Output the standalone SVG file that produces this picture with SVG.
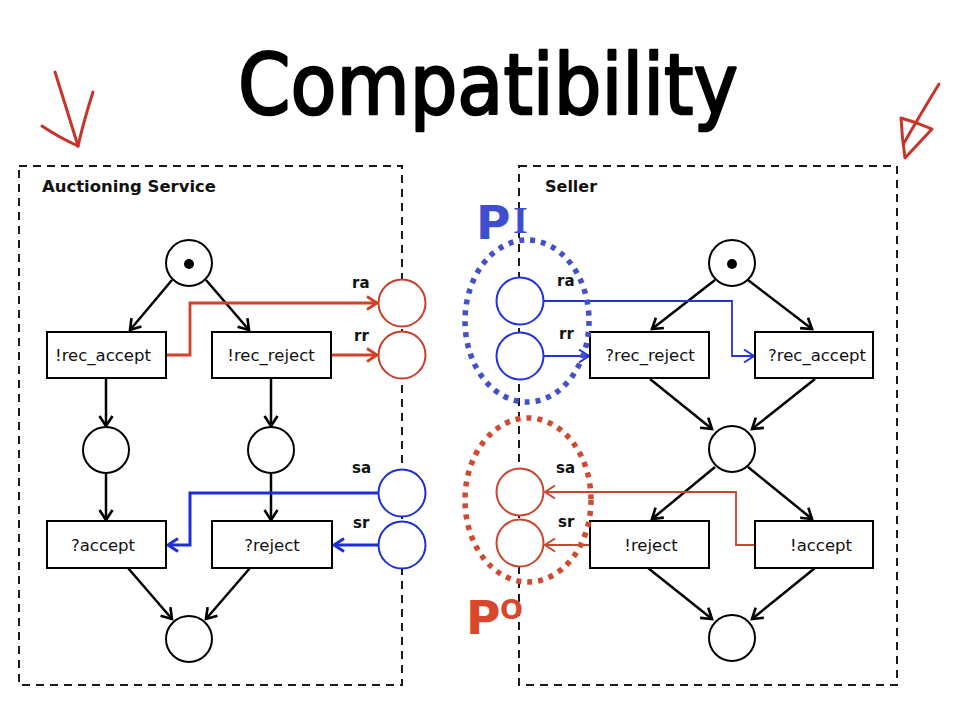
<svg xmlns="http://www.w3.org/2000/svg" width="960" height="712" viewBox="0 0 960 712">
  <style>
    .frame { fill: none; stroke: #1a1a1a; stroke-width: 2; stroke-dasharray: 8 6; }
    .place { fill: #fff; stroke: #000; stroke-width: 2; }
    .trans { fill: #fff; stroke: #000; stroke-width: 2; }
    .tlabel { font-family: "DejaVu Sans", Verdana, sans-serif; font-size: 16.5px; fill: #111; text-anchor: middle; }
    .plabel { font-family: "DejaVu Sans", Verdana, sans-serif; font-size: 15px; font-weight: bold; fill: #111; }
    .title2 { font-family: "DejaVu Sans", Verdana, sans-serif; font-size: 16px; font-weight: bold; fill: #111; }
    .arc { fill: none; stroke: #000; stroke-width: 2.5; }
    .redL { fill: none; stroke: #d0402a; stroke-width: 2.8; }
    .blueL { fill: none; stroke: #1f30d2; stroke-width: 3; }
    .blueR { fill: none; stroke: #2233dd; stroke-width: 1.8; }
    .redR { fill: none; stroke: #c8452e; stroke-width: 1.8; }
    .pen { fill: none; stroke: #c7352a; stroke-width: 3; stroke-linecap: round; stroke-linejoin: round; }
  </style>
  <defs>
    <marker id="ahBlack" markerUnits="userSpaceOnUse" markerWidth="16" markerHeight="16" viewBox="0 0 16 16" refX="13" refY="8" orient="auto">
      <path d="M3,1.5 L13,8 L3,14.5" fill="none" stroke="#000" stroke-width="2.6"/>
    </marker>
    <marker id="ahRedL" markerUnits="userSpaceOnUse" markerWidth="16" markerHeight="16" viewBox="0 0 16 16" refX="13" refY="8" orient="auto">
      <path d="M3,1.5 L13,8 L3,14.5" fill="none" stroke="#d0402a" stroke-width="2.8"/>
    </marker>
    <marker id="ahBlueL" markerUnits="userSpaceOnUse" markerWidth="16" markerHeight="16" viewBox="0 0 16 16" refX="13" refY="8" orient="auto">
      <path d="M3,1.5 L13,8 L3,14.5" fill="none" stroke="#1f30d2" stroke-width="3"/>
    </marker>
    <marker id="ahBlueR" markerUnits="userSpaceOnUse" markerWidth="16" markerHeight="16" viewBox="0 0 16 16" refX="13" refY="8" orient="auto">
      <path d="M3,1.5 L13,8 L3,14.5" fill="none" stroke="#2233dd" stroke-width="2"/>
    </marker>
    <marker id="ahRedR" markerUnits="userSpaceOnUse" markerWidth="16" markerHeight="16" viewBox="0 0 16 16" refX="13" refY="8" orient="auto">
      <path d="M3,1.5 L13,8 L3,14.5" fill="none" stroke="#c8452e" stroke-width="2"/>
    </marker>
  </defs>

  <rect width="960" height="712" fill="#fff"/>

  <!-- heading -->
  <text x="238" y="114" font-family="'Comic Sans MS', 'DejaVu Sans', sans-serif" font-size="84" fill="#000" stroke="#000" stroke-width="2.5" stroke-linejoin="round" textLength="500" lengthAdjust="spacingAndGlyphs">Compatibility</text>

  <!-- pen annotations -->
  <g id="pen-marks">
    <path class="pen" d="M55,72 Q67,110 78,146"/>
    <path class="pen" d="M93,92 Q84,120 78,146"/>
    <path class="pen" d="M42,126 Q60,138 78,146"/>
    <path class="pen" d="M939,84 Q920,115 904,143"/>
    <path class="pen" d="M901,118 Q916,122 932,129 Q918,144 905,158 Q902,138 901,118"/>
  </g>

  <!-- service frames -->
  <g id="frames">
    <rect class="frame" x="19" y="166" width="383" height="519"/>
    <rect class="frame" x="519" y="166" width="378" height="519"/>
    <text class="title2" x="42" y="192" textLength="174" lengthAdjust="spacingAndGlyphs">Auctioning Service</text>
    <text class="title2" x="545" y="192">Seller</text>
  </g>

  <!-- arcs -->
  <g id="connectors">
    <!-- auctioning service internal arcs -->
    <line class="arc" x1="172" y1="280" x2="130" y2="330" marker-end="url(#ahBlack)"/>
    <line class="arc" x1="206" y1="280" x2="249" y2="330" marker-end="url(#ahBlack)"/>
    <line class="arc" x1="106" y1="379" x2="106" y2="426" marker-end="url(#ahBlack)"/>
    <line class="arc" x1="271" y1="379" x2="271" y2="426" marker-end="url(#ahBlack)"/>
    <line class="arc" x1="106" y1="474" x2="106" y2="520" marker-end="url(#ahBlack)"/>
    <line class="arc" x1="271" y1="474" x2="271" y2="520" marker-end="url(#ahBlack)"/>
    <line class="arc" x1="128" y1="568" x2="172" y2="619" marker-end="url(#ahBlack)"/>
    <line class="arc" x1="250" y1="568" x2="206" y2="619" marker-end="url(#ahBlack)"/>

    <!-- auctioning service interface arcs -->
    <polyline class="redL" points="166,355 190,355 190,303 377,303" marker-end="url(#ahRedL)"/>
    <line class="redL" x1="331" y1="355" x2="377" y2="355" marker-end="url(#ahRedL)"/>
    <polyline class="blueL" points="378,493 190,493 190,545 168,545" marker-end="url(#ahBlueL)"/>
    <line class="blueL" x1="378" y1="545" x2="334" y2="545" marker-end="url(#ahBlueL)"/>

    <!-- seller internal arcs -->
    <line class="arc" x1="715" y1="280" x2="652" y2="329" marker-end="url(#ahBlack)"/>
    <line class="arc" x1="748" y1="280" x2="812" y2="329" marker-end="url(#ahBlack)"/>
    <line class="arc" x1="650" y1="379" x2="712" y2="429" marker-end="url(#ahBlack)"/>
    <line class="arc" x1="815" y1="379" x2="752" y2="429" marker-end="url(#ahBlack)"/>
    <line class="arc" x1="715" y1="467" x2="652" y2="519" marker-end="url(#ahBlack)"/>
    <line class="arc" x1="748" y1="467" x2="812" y2="519" marker-end="url(#ahBlack)"/>
    <line class="arc" x1="648" y1="568" x2="712" y2="619" marker-end="url(#ahBlack)"/>
    <line class="arc" x1="815" y1="568" x2="752" y2="619" marker-end="url(#ahBlack)"/>

    <!-- seller interface arcs -->
    <polyline class="blueR" points="544,301 732,301 732,356 754,356" marker-end="url(#ahBlueR)"/>
    <line class="blueR" x1="544" y1="356" x2="589" y2="356" marker-end="url(#ahBlueR)"/>
    <polyline class="redR" points="755,545 736,545 736,492 545,492" marker-end="url(#ahRedR)"/>
    <line class="redR" x1="590" y1="545" x2="545" y2="545" marker-end="url(#ahRedR)"/>
  </g>

  <!-- auctioning service places -->
  <g id="as-start"><circle class="place" cx="189" cy="263" r="23"/><circle cx="189" cy="264" r="5" fill="#000"/></g>
  <g id="as-p-accept"><circle class="place" cx="106" cy="450" r="23"/></g>
  <g id="as-p-reject"><circle class="place" cx="271" cy="450" r="23"/></g>
  <g id="as-end"><circle class="place" cx="189" cy="639" r="23"/></g>

  <!-- auctioning service transitions -->
  <g id="as-rec-accept"><rect class="trans" x="47" y="332" width="119" height="46"/><text class="tlabel" x="103" y="361">!rec_accept</text></g>
  <g id="as-rec-reject"><rect class="trans" x="212" y="332" width="119" height="46"/><text class="tlabel" x="271" y="361">!rec_reject</text></g>
  <g id="as-accept"><rect class="trans" x="47" y="521" width="119" height="47"/><text class="tlabel" x="103" y="551">?accept</text></g>
  <g id="as-reject"><rect class="trans" x="212" y="521" width="120" height="47"/><text class="tlabel" x="272" y="551">?reject</text></g>

  <!-- auctioning service interface places -->
  <g id="as-ra"><circle cx="402" cy="303" r="23.5" fill="#fff" stroke="#c8402c" stroke-width="2"/><text class="plabel" x="352" y="288">ra</text></g>
  <g id="as-rr"><circle cx="402" cy="355" r="23.5" fill="#fff" stroke="#c8402c" stroke-width="2"/><text class="plabel" x="354" y="341">rr</text></g>
  <g id="as-sa"><circle cx="402" cy="493" r="23.5" fill="#fff" stroke="#1f30d2" stroke-width="2"/><text class="plabel" x="352" y="473">sa</text></g>
  <g id="as-sr"><circle cx="402" cy="545" r="23.5" fill="#fff" stroke="#1f30d2" stroke-width="2"/><text class="plabel" x="353" y="528">sr</text></g>

  <!-- seller places -->
  <g id="s-start"><circle class="place" cx="732" cy="263" r="23"/><circle cx="732" cy="264" r="5" fill="#000"/></g>
  <g id="s-mid"><circle class="place" cx="732" cy="449" r="23"/></g>
  <g id="s-end"><circle class="place" cx="732" cy="638" r="23"/></g>

  <!-- seller transitions -->
  <g id="s-rec-reject"><rect class="trans" x="590" y="332" width="119" height="46"/><text class="tlabel" x="650" y="361">?rec_reject</text></g>
  <g id="s-rec-accept"><rect class="trans" x="755" y="332" width="118" height="46"/><text class="tlabel" x="817" y="361">?rec_accept</text></g>
  <g id="s-reject"><rect class="trans" x="590" y="521" width="119" height="47"/><text class="tlabel" x="651" y="551">!reject</text></g>
  <g id="s-accept"><rect class="trans" x="755" y="521" width="118" height="47"/><text class="tlabel" x="821" y="551">!accept</text></g>

  <!-- seller interface places -->
  <g id="s-ra"><circle cx="520" cy="301" r="23.5" fill="#fff" stroke="#2233dd" stroke-width="2"/><text class="plabel" x="557" y="286">ra</text></g>
  <g id="s-rr"><circle cx="520" cy="356" r="23.5" fill="#fff" stroke="#2233dd" stroke-width="2"/><text class="plabel" x="559" y="339">rr</text></g>
  <g id="s-sa"><circle cx="520" cy="492" r="23.5" fill="#fff" stroke="#c8452e" stroke-width="2"/><text class="plabel" x="556" y="473">sa</text></g>
  <g id="s-sr"><circle cx="520" cy="543" r="23.5" fill="#fff" stroke="#c8452e" stroke-width="2"/><text class="plabel" x="558" y="527">sr</text></g>

  <!-- port groupings -->
  <g id="port-in">
    <ellipse cx="527" cy="321" rx="62" ry="81" fill="none" stroke="#4350c8" stroke-width="5.5" stroke-dasharray="5 6"/>
    <text x="476" y="239" font-family="'DejaVu Sans', Verdana, sans-serif" font-weight="bold" font-size="47" fill="#3d4fcf">P</text>
    <text x="513" y="233" font-family="'Liberation Serif', serif" font-weight="bold" font-size="38" fill="#3d4fcf">I</text>
  </g>
  <g id="port-out">
    <ellipse cx="528" cy="500" rx="63" ry="82" fill="none" stroke="#d04a30" stroke-width="5.5" stroke-dasharray="5 6"/>
    <text x="466" y="634" font-family="'DejaVu Sans', Verdana, sans-serif" font-weight="bold" font-size="47" fill="#d9472b">P</text>
    <text x="500" y="619" font-family="'DejaVu Sans', Verdana, sans-serif" font-weight="bold" font-size="27" fill="#d9472b">O</text>
  </g>
</svg>
